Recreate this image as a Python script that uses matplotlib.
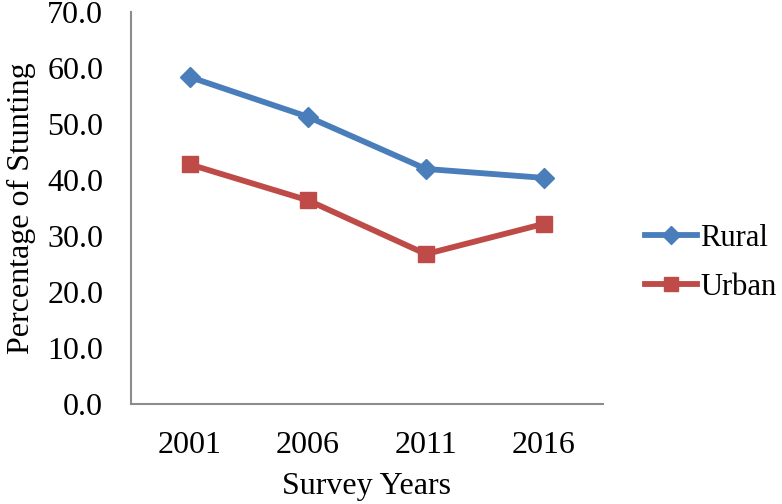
import matplotlib.pyplot as plt
import numpy as np

years = ["2001", "2006", "2011", "2016"]
rural = [58.4, 51.3, 42.0, 40.4]
urban = [42.8, 36.4, 26.8, 32.2]

plt.rcParams["font.family"] = ["Liberation Serif", "DejaVu Serif"]

fig = plt.figure(figsize=(7.82, 5.04), dpi=100)
ax = fig.add_axes([0.1675, 0.198, 0.6035, 0.778])

x = np.arange(len(years))
ax.plot(x, rural, color="#4A7EBB", lw=4.2, marker="D", ms=10, label="Rural")
ax.plot(x, urban, color="#BE4B48", lw=4.2, marker="s", ms=11, label="Urban")

ax.set_xlim(-0.5, 3.5)
ax.set_ylim(0, 70)
ax.set_xticks(x)
ax.set_xticklabels(years)
ax.set_yticks(np.arange(0, 71, 10))
ax.set_yticklabels(["%.1f" % v for v in np.arange(0, 71, 10)])
ax.tick_params(axis="both", length=0, labelsize=23)
ax.tick_params(axis="y", pad=20)
ax.tick_params(axis="x", pad=19)

for s in ["top", "right"]:
    ax.spines[s].set_visible(False)
for s in ["left", "bottom"]:
    ax.spines[s].set_color("#8C8C8C")
    ax.spines[s].set_linewidth(1.5)

ax.set_xlabel("Survey Years", fontsize=23, labelpad=9)
ax.set_ylabel("Percentage of Stunting", fontsize=23, labelpad=8)

fig.legend(loc="center left", bbox_to_anchor=(0.79, 0.479), frameon=False,
           fontsize=22, handlelength=1.7, handletextpad=0.1, labelspacing=0.65,
           markerscale=0.9)

fig.savefig("out.png", dpi=100)
